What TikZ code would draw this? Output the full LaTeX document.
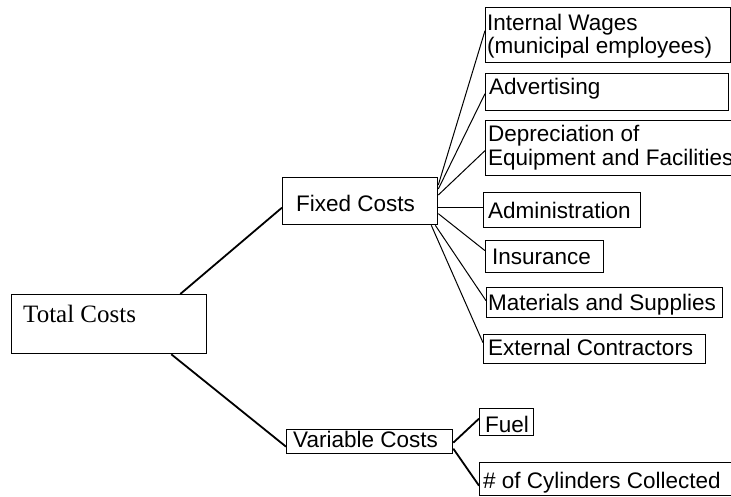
\documentclass[tikz,border=0pt]{standalone}
\usepackage{fontspec}
\setmainfont{Liberation Sans}
\newfontfamily\serifface{Liberation Serif}
\begin{document}
\begin{tikzpicture}[x=1pt,y=-1pt,
  box/.style={draw=black, line width=1.3pt, rectangle, inner sep=0pt, anchor=north west},
  txt/.style={anchor=base west, inner sep=0pt, font=\fontsize{22.5}{24}\selectfont},
  sertxt/.style={anchor=base west, inner sep=0pt, font=\serifface\fontsize{25}{27}\selectfont},
  main/.style={draw=black, line width=1.8pt},
  fan/.style={draw=black, line width=1pt}]
\useasboundingbox (0,0) rectangle (731,496);
% boxes
\node[box, minimum width=195pt, minimum height=59pt] (tc) at (11,294) {};
\node[box, minimum width=155pt, minimum height=47pt] (fc) at (282,177) {};
\node[box, minimum width=166pt, minimum height=24pt] (vc) at (286,429) {};
\node[box, minimum width=245pt, minimum height=55pt] (iw) at (485,7) {};
\node[box, minimum width=243pt, minimum height=37pt] (ad) at (485,73) {};
\node[box, minimum width=250pt, minimum height=55pt] (dp) at (485,120) {};
\node[box, minimum width=157pt, minimum height=35pt] (am) at (483,192) {};
\node[box, minimum width=118pt, minimum height=32pt] (in) at (485,240) {};
\node[box, minimum width=236pt, minimum height=30pt] (ms) at (486,287) {};
\node[box, minimum width=222pt, minimum height=29pt] (ec) at (483,334) {};
\node[box, minimum width=54pt, minimum height=27pt] (fu) at (479,408) {};
\node[box, minimum width=260pt, minimum height=33pt] (cy) at (479,462) {};
% texts
\node[sertxt] (tct) at (23,322) {Total Costs};
\node[txt] (fct) at (296,211) {Fixed Costs};
\node[txt] (vct) at (293,447) {Variable Costs};
\node[txt] (iwt1) at (487,30) {Internal Wages};
\node[txt] (iwt2) at (487,53) {(municipal employees)};
\node[txt] (adt) at (489,94) {Advertising};
\node[txt] (dpt1) at (488,141) {Depreciation of};
\node[txt] (dpt2) at (488,165) {Equipment and Facilities};
\node[txt] (amt) at (488,218) {Administration};
\node[txt] (int) at (492,264) {Insurance};
\node[txt] (mst) at (488,310) {Materials and Supplies};
\node[txt] (ect) at (488,355) {External Contractors};
\node[txt] (fut) at (485,432) {Fuel};
\node[txt] (cyt) at (483,488) {\# of Cylinders Collected};
% connectors
\draw[main] ([xshift=-27pt]tc.north east) -- ([yshift=-6.5pt]fc.west);
\draw[main] ([xshift=-36pt]tc.south east) -- ([yshift=-5pt]vc.west);
\draw[fan] ([yshift=-8pt]fc.north east) -- ([yshift=4.5pt]iw.west);
\draw[fan] ([yshift=-12pt]fc.north east) -- ([yshift=-1.5pt]ad.west);
\draw[fan] ([yshift=-18pt]fc.north east) -- ([yshift=-2.5pt]dp.west);
\draw[fan] ([yshift=-6.5pt]fc.east) -- ([yshift=2.5pt]am.west);
\draw[fan] ([yshift=-12.5pt]fc.east) -- ([yshift=6pt]in.west);
\draw[fan] ([xshift=-3pt]fc.south east) -- ([yshift=2pt]ms.west);
\draw[fan] ([xshift=-7pt]fc.south east) -- ([yshift=6.5pt]ec.west);
\draw[main] ([yshift=-1pt]vc.east) -- ([yshift=3.5pt]fu.west);
\draw[main] ([yshift=-7pt]vc.east) -- ([yshift=-6.5pt]cy.west);
\end{tikzpicture}
\end{document}
